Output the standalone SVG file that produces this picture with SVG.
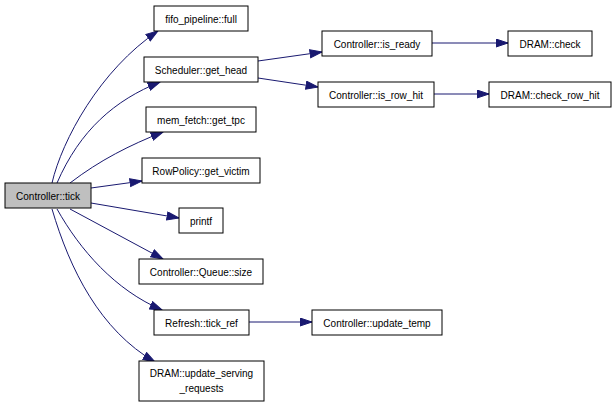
<svg xmlns="http://www.w3.org/2000/svg" width="616" height="407" viewBox="0 0 616 407">
<defs>
<style>
.n rect{fill:#ffffff;stroke:#000000;stroke-width:1}
.n.root rect{fill:#bfbfbf}
.n text{font-family:"Liberation Sans",Arial,sans-serif;font-size:10px;fill:#000000;text-anchor:middle}
.e path{fill:none;stroke:#191970;stroke-width:1;marker-end:url(#ah)}
</style>
<marker id="ah" markerUnits="userSpaceOnUse" markerWidth="14" markerHeight="10" refX="12.5" refY="4.5" orient="auto">
<polygon points="0.5,0.5 12.5,4.5 0.5,8.5" fill="#191970" stroke="#191970"/>
</marker>
</defs>
<rect width="616" height="407" fill="#ffffff"/>
<g id="edges" class="e">
<path d="M52,183 C62,140 100,70 158,31"/>
<path d="M57,183 C80,130 115,100 160,82"/>
<path d="M70,183 C100,160 130,145 163,132"/>
<path d="M91,188 L142,181"/>
<path d="M91,203 L179,218"/>
<path d="M70,209 L163,259"/>
<path d="M57,209 C80,250 115,290 162,310"/>
<path d="M52,209 C70,270 100,330 155,362"/>
<path d="M258,61 L322,52"/>
<path d="M258,78 L318,87"/>
<path d="M432,43 L508,43"/>
<path d="M434,94 L489,94"/>
<path d="M249,322 L312,322"/>
</g>
<g id="n_tick" class="n root"><rect x="5" y="183" width="86" height="25"/><text x="48" y="199.5">Controller::tick</text></g>
<g id="n_fifo" class="n"><rect x="154" y="6" width="94" height="25"/><text x="201" y="22.5">fifo_pipeline::full</text></g>
<g id="n_gethead" class="n"><rect x="144" y="57" width="114" height="25"/><text x="201" y="73.5">Scheduler::get_head</text></g>
<g id="n_gettpc" class="n"><rect x="146" y="107" width="110" height="25"/><text x="201" y="123.5">mem_fetch::get_tpc</text></g>
<g id="n_getvictim" class="n"><rect x="142" y="158" width="118" height="25"/><text x="201" y="174.5">RowPolicy::get_victim</text></g>
<g id="n_printf" class="n"><rect x="179" y="208" width="44" height="25"/><text x="201" y="224.5">printf</text></g>
<g id="n_qsize" class="n"><rect x="139" y="259" width="124" height="25"/><text x="201" y="275.5">Controller::Queue::size</text></g>
<g id="n_tickref" class="n"><rect x="154" y="310" width="95" height="25"/><text x="201.5" y="326.5">Refresh::tick_ref</text></g>
<g id="n_update" class="n"><rect x="139" y="361" width="125" height="40"/><text x="201.5" y="377">DRAM::update_serving</text><text x="201.5" y="392">_requests</text></g>
<g id="n_isready" class="n"><rect x="322" y="31" width="110" height="25"/><text x="377" y="47.5">Controller::is_ready</text></g>
<g id="n_check" class="n"><rect x="508" y="31" width="84" height="25"/><text x="550" y="47.5">DRAM::check</text></g>
<g id="n_isrowhit" class="n"><rect x="318" y="82" width="116" height="25"/><text x="376" y="98.5">Controller::is_row_hit</text></g>
<g id="n_checkrowhit" class="n"><rect x="489" y="82" width="122" height="25"/><text x="550" y="98.5">DRAM::check_row_hit</text></g>
<g id="n_updtemp" class="n"><rect x="312" y="310" width="130" height="25"/><text x="377" y="326.5">Controller::update_temp</text></g>
</svg>
